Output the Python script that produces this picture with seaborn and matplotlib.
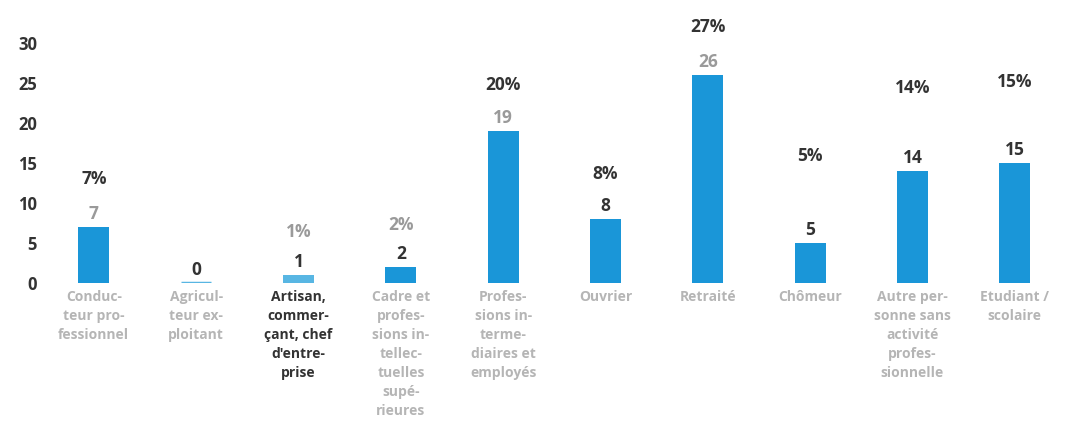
import matplotlib
matplotlib.use("Agg")
import matplotlib.pyplot as plt
import seaborn as sns
import pandas as pd

categories = [
    "Conduc-\nteur pro-\nfessionnel",
    "Agricul-\nteur ex-\nploitant",
    "Artisan,\ncommer-\nçant, chef\nd'entre-\nprise",
    "Cadre et\nprofes-\nsions in-\ntellec-\ntuelles\nsupé-\nrieures",
    "Profes-\nsions in-\nterme-\ndiaires et\nemployés",
    "Ouvrier",
    "Retraité",
    "Chômeur",
    "Autre per-\nsonne sans\nactivité\nprofes-\nsionnelle",
    "Etudiant /\nscolaire",
]
counts = [7, 0, 1, 2, 19, 8, 26, 5, 14, 15]
percents = ["7%", "", "1%", "2%", "20%", "8%", "27%", "5%", "14%", "15%"]
yticks = [0, 5, 10, 15, 20, 25, 30]

# styling
blue = "#1a96d8"
light_blue = "#58b6e3"
dark = "#333333"
grey = "#9a9a9a"
label_grey = "#b5b5b5"
bar_colors = [blue, light_blue, light_blue, blue, blue, blue, blue, blue, blue, blue]
count_colors = [grey, dark, dark, dark, grey, dark, grey, dark, dark, dark]
pct_colors = [dark, dark, grey, grey, dark, dark, dark, dark, dark, dark]
tick_colors = [label_grey, label_grey, dark, label_grey, label_grey,
               label_grey, label_grey, label_grey, label_grey, label_grey]
# vertical offset (points) of the percentage label above the count label
pct_offsets = [25, 0, 21.5, 20.5, 23.5, 23, 25.5, 53, 50, 49]

sns.set_style("white")
plt.rcParams["font.family"] = ["Open Sans", "DejaVu Sans"]

df = pd.DataFrame({"cat": categories, "n": counts})

fig = plt.figure(figsize=(10.66, 4.23), dpi=100)
ax = fig.add_axes([0.04, 0.331, 0.96, 0.567])

sns.barplot(data=df, x="cat", y="n", hue="cat", palette=bar_colors,
            width=0.3, legend=False, ax=ax, saturation=1)

for i, p in enumerate(ax.patches):
    p.set_edgecolor(bar_colors[i])
    p.set_linewidth(2.5 if counts[i] == 0 else 0)
    cx = p.get_x() + p.get_width() / 2
    top = p.get_height()
    ax.annotate(str(counts[i]), (cx, top), xytext=(0, 3), textcoords="offset points",
                ha="center", va="bottom", fontsize=12.5, fontweight="bold",
                color=count_colors[i], clip_on=False)
    if percents[i]:
        ax.annotate(percents[i], (cx, top), xytext=(0, 3 + pct_offsets[i]),
                    textcoords="offset points", ha="center", va="bottom",
                    fontsize=12.5, fontweight="bold", color=pct_colors[i],
                    clip_on=False)

ax.set_ylim(0, 30)
ax.set_xlim(-0.5, len(categories) - 0.5)
ax.set_yticks(yticks)
ax.set_yticklabels([str(t) for t in yticks], fontsize=12, fontweight="bold", color=dark)
ax.tick_params(axis="both", length=0, pad=4)
ax.tick_params(axis="x", pad=5)
ax.set_xticks(range(len(categories)))
ax.set_xticklabels(categories, fontsize=10, fontweight="bold", va="top",
                   linespacing=1.45)
for lbl, c in zip(ax.get_xticklabels(), tick_colors):
    lbl.set_color(c)
ax.set_xlabel("")
ax.set_ylabel("")
sns.despine(ax=ax, left=True, bottom=True)

fig.savefig("out.png", dpi=100)
